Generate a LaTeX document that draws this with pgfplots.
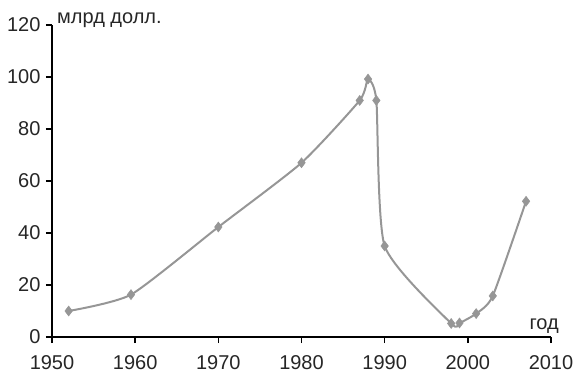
\documentclass[border=0pt]{standalone}
\usepackage{fontspec}
\setmainfont{Liberation Sans}
\usepackage{pgfplots}
\pgfplotsset{compat=1.18}
\definecolor{linegrey}{RGB}{150,150,150}
\begin{document}
\begin{tikzpicture}
\begin{axis}[
    scale only axis,
    width=499pt, height=312pt,
    axis lines=left,
    axis line style={-, black, line width=1.5pt},
    xmin=1950, xmax=2010,
    ymin=0, ymax=120,
    xtick={1950,1960,...,2010},
    ytick={0,20,...,120},
    tick align=outside,
    major tick length=6pt,
    tick style={black, line width=1.5pt},
    x tick label style={/pgf/number format/1000 sep={}},
    /pgf/number format/assume math mode=true,
    tick label style={font=\fontsize{20}{23}\selectfont, text=black!85},
    xticklabel style={yshift=-9pt},
    yticklabel style={xshift=-2pt},
    clip=false,
]
\addplot[color=linegrey, line width=2pt, smooth, tension=0.35,
    mark=diamond*, mark size=5pt, mark options={fill=linegrey, draw=linegrey, line width=0.5pt}]
coordinates {
    (1952,10) (1959.5,16.3) (1970,42.3) (1980,67) (1987,91) (1988,99.2)
    (1989,91) (1990,35) (1998,5.2) (1999,5.4) (2001,9) (2003,15.8) (2007,52.2)
};
\coordinate (bl) at (rel axis cs:0,0);
\coordinate (tr) at (rel axis cs:1,1);
\node[anchor=base west, inner sep=0pt, font=\fontsize{20}{23}\selectfont, text=black!85]
    at (rel axis cs:0,1) [xshift=5pt, yshift=1pt] {млрд долл.};
\node[anchor=base east, inner sep=0pt, font=\fontsize{20}{23}\selectfont, text=black!85]
    at (rel axis cs:1,0) [xshift=8pt, yshift=7pt] {год};
\end{axis}
\pgfresetboundingbox
\path ([shift={(-52pt,-41pt)}]bl) rectangle ([shift={(23pt,25pt)}]tr);
\end{tikzpicture}
\end{document}
